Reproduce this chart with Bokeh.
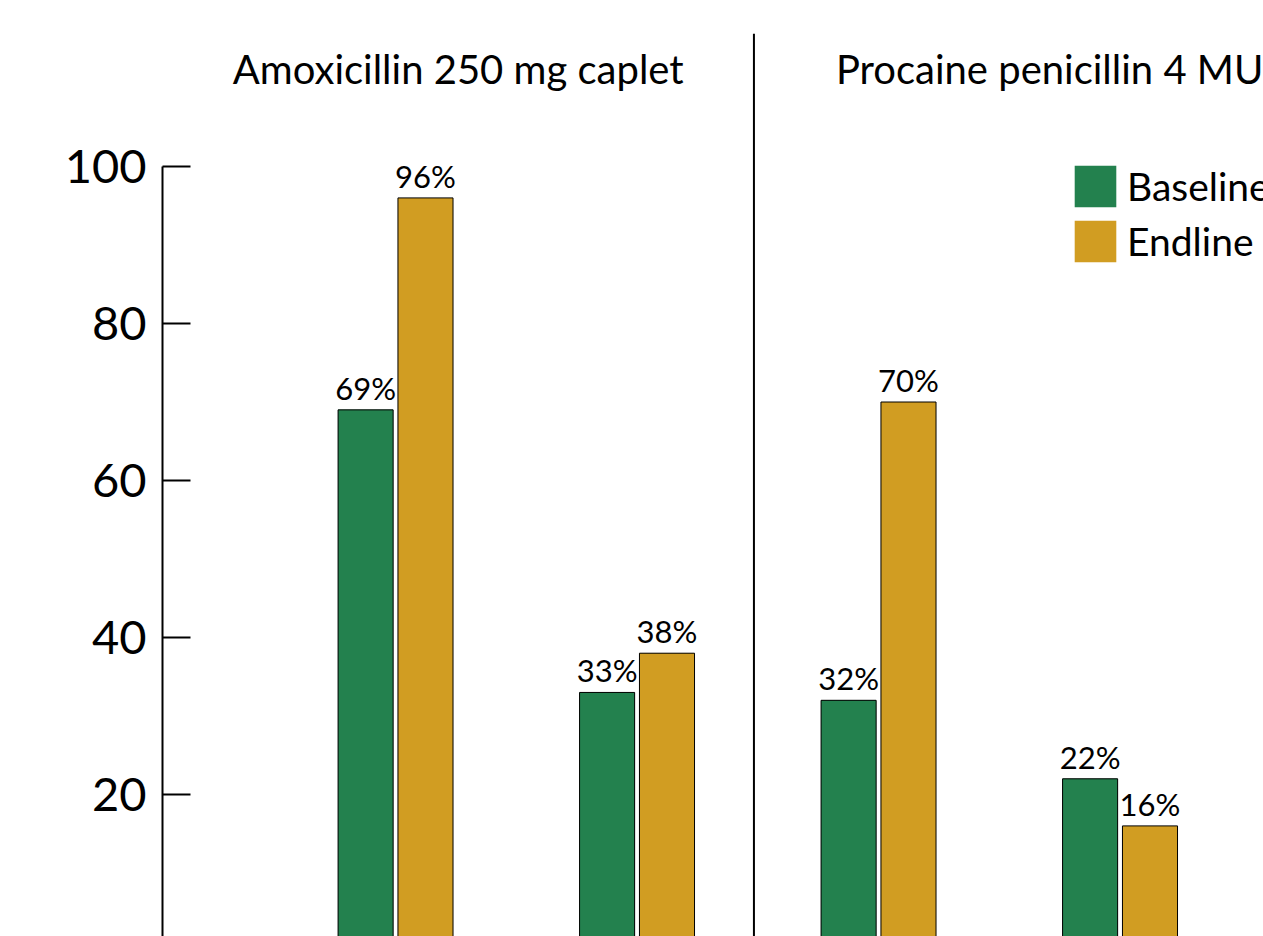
from bokeh.plotting import figure
from bokeh.models import Range1d, ColumnDataSource, Legend, LegendItem, FixedTicker
from bokeh.core.properties import value
from bokeh.embed import file_html
from bokeh.resources import INLINE

# ---- data ----
groups = ["Amox A", "Amox B", "Proc A", "Proc B"]
panels = ["Amoxicillin 250 mg caplet", "Procaine penicillin 4 MU"]
baseline = [69, 33, 32, 22]
endline = [96, 38, 70, 16]
series = ["Baseline", "Endline"]
y_ticks = [0, 20, 40, 60, 80, 100]

GREEN = "#23814E"
GOLD = "#D19D22"
FONT = "Lato"

xpos = [i + 1 for i in range(len(groups))]
off = 0.124
bw = 0.228

p = figure(width=1263, height=936, output_backend="svg", toolbar_location=None,
           x_range=Range1d(0.035, 4.594), y_range=Range1d(1.91, 121.15),
           x_axis_type=None, min_border_left=162, min_border_right=0,
           min_border_top=0, min_border_bottom=0)
p.outline_line_color = None
p.grid.visible = False
p.background_fill_color = "white"

src = ColumnDataSource(dict(
    xb=[x - off for x in xpos], xe=[x + off for x in xpos],
    b=baseline, e=endline,
    bl=[f"{v}%" for v in baseline], el=[f"{v}%" for v in endline]))

# outline-free copies used as legend swatches (hidden under the outlined bars)
lb = p.vbar(x="xb", top="b", bottom=0, width=bw, source=src, fill_color=GREEN, line_color=None)
le = p.vbar(x="xe", top="e", bottom=0, width=bw, source=src, fill_color=GOLD, line_color=None)

p.vbar(x="xb", top="b", bottom=0, width=bw, source=src,
       fill_color=GREEN, line_color="black", line_width=1)
p.vbar(x="xe", top="e", bottom=0, width=bw, source=src,
       fill_color=GOLD, line_color="black", line_width=1)

for xc, yc, lab in (("xb", "b", "bl"), ("xe", "e", "el")):
    p.text(x=xc, y=yc, text=lab, source=src,
           text_align="center", text_baseline="bottom", y_offset=-3,
           text_font=value(FONT), text_font_size="31px", text_color="black")

# separator between panels
sep = (xpos[1] + xpos[2]) / 2 - 0.016
p.segment(x0=[sep], y0=[0], x1=[sep], y1=[116.9], line_color="black", line_width=2)

# panel titles
left_edge = 0.035
panel_w = sep - left_edge
p.text(x=[left_edge + panel_w / 2, sep + panel_w / 2], y=[112.4, 112.4], text=panels,
       text_align="center", text_baseline="middle",
       text_font=value(FONT), text_font_size="40px", text_color="black")

# y axis
ax = p.yaxis[0]
ax.ticker = FixedTicker(ticks=y_ticks)
ax.bounds = (0, 100)
ax.major_tick_in = 28
ax.major_tick_out = 0
ax.minor_tick_line_color = None
ax.axis_line_width = 2
ax.major_tick_line_width = 2
ax.axis_line_color = "black"
ax.major_tick_line_color = "black"
ax.major_label_text_font = FONT
ax.major_label_text_font_size = "47px"
ax.major_label_text_color = "black"
ax.major_label_standoff = 16

leg = Legend(items=[LegendItem(label=series[0], renderers=[lb]),
                    LegendItem(label=series[1], renderers=[le])],
             location=(907, 669), glyph_width=52, glyph_height=52,
             label_height=52, label_standoff=6, spacing=3, padding=0, margin=0,
             border_line_color=None, background_fill_alpha=0,
             label_text_font=FONT, label_text_font_size="39px",
             label_text_color="black", label_text_baseline="middle")
p.add_layout(leg)

open("out.html", "w").write(file_html(p, INLINE))
